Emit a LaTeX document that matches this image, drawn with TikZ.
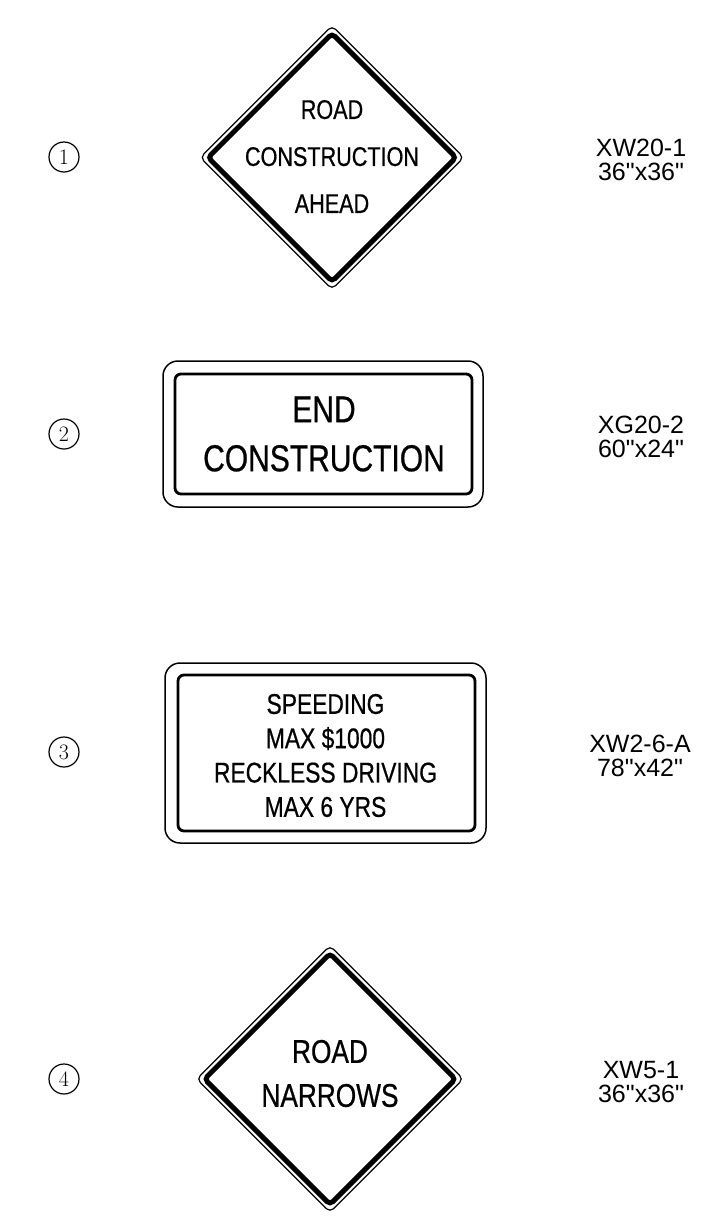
\documentclass[tikz,border=0pt]{standalone}
\usepackage{fontspec}
\usetikzlibrary{shapes.geometric}
\newfontfamily\labelfont{Liberation Sans}
\newfontfamily\signfont[FakeStretch=0.8,FakeBold=0.6]{Liberation Sans}

\begin{document}
\begin{tikzpicture}[x=1pt,y=-1pt,
  diamondrim/.style={diamond,aspect=1,draw,line width=1.2pt,inner sep=0pt,rounded corners=5pt},
  diamondband/.style={diamond,aspect=1,draw,line width=5pt,inner sep=0pt,rounded corners=4pt},
  boxrim/.style={rectangle,draw,line width=1.5pt,inner sep=0pt,rounded corners=15pt},
  boxband/.style={rectangle,draw,line width=2.8pt,inner sep=0pt,rounded corners=6pt},
  numcircle/.style={circle,draw,line width=1.2pt,minimum size=30pt,inner sep=0pt,font=\fontsize{22}{22}\selectfont},
  codelabel/.style={align=center,inner sep=0pt,font=\labelfont\fontsize{25}{23.5}\selectfont}]
\useasboundingbox (0,0) rectangle (725,1223);
% Draw the numbers
\node[numcircle] (n1) at (64,157) {1};
\node[numcircle] (n2) at (64,434) {2};
\node[numcircle] (n3) at (64,752) {3};
\node[numcircle] (n4) at (64,1079) {4};
% Sign 1
\node[diamondrim,minimum size=264pt] (s1rim) at (332,157.5) {};
\node[diamondband,minimum size=250pt] (s1band) at (332,157.5) {};
\node[align=center,inner sep=0pt,font=\signfont\fontsize{27}{47}\selectfont] (s1text) at (332,156.5) {ROAD\\CONSTRUCTION\\AHEAD};
% Sign 2
\node[boxrim,minimum width=320pt,minimum height=146pt] (s2rim) at (323,434) {};
\node[boxband,minimum width=297pt,minimum height=120pt] (s2band) at (323.5,434) {};
\node[align=center,inner sep=0pt,font=\signfont\fontsize{37.5}{49}\selectfont] (s2text) at (324,434) {END\\CONSTRUCTION};
% Sign 3
\node[boxrim,minimum width=321pt,minimum height=180pt] (s3rim) at (325.5,753) {};
\node[boxband,minimum width=297pt,minimum height=156pt] (s3band) at (326.5,753) {};
\node[align=center,inner sep=0pt,font=\signfont\fontsize{28.5}{34.3}\selectfont] (s3text) at (325.5,755.5) {SPEEDING\\MAX \$1000\\RECKLESS DRIVING\\MAX 6 YRS};
% Sign 4
\node[diamondrim,minimum size=267pt] (s4rim) at (330,1079) {};
\node[diamondband,minimum size=253pt] (s4band) at (330,1079) {};
\node[align=center,inner sep=0pt,font=\signfont\fontsize{32.8}{44}\selectfont] (s4text) at (330,1073.5) {ROAD\\NARROWS};
% Add sign codes
\node[codelabel] (c1) at (641,160) {XW20-1\\36"x36"};
\node[codelabel] (c2) at (641,437) {XG20-2\\60"x24"};
\node[codelabel] (c3) at (640,756) {XW2-6-A\\78"x42"};
\node[codelabel] (c4) at (641,1082) {XW5-1\\36"x36"};
\end{tikzpicture}
\end{document}
